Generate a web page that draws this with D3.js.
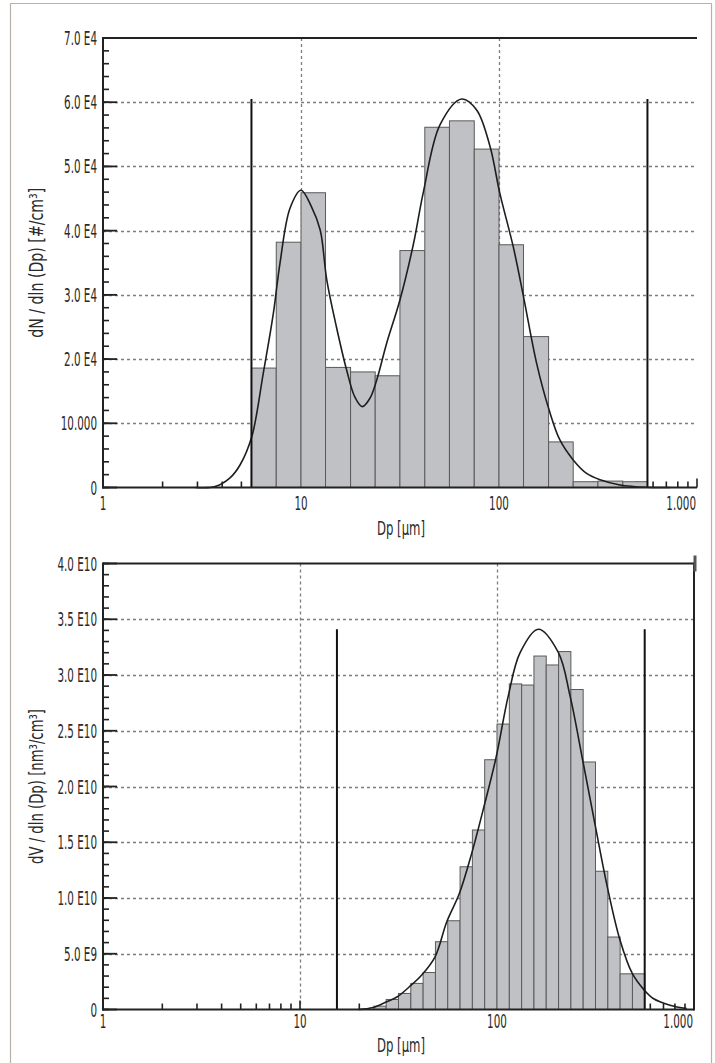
<!DOCTYPE html>
<html>
<head>
<meta charset="utf-8">
<script src="https://cdn.jsdelivr.net/npm/d3@7"></script>
<style>
  html, body { margin: 0; padding: 0; background: #ffffff; }
  svg { display: block; }
  text { font-family: "Liberation Sans Narrow", "DejaVu Sans Condensed", "Roboto", sans-serif; fill: #2a2a2a; }
</style>
</head>
<body>
<svg id="chart" width="715" height="1063"></svg>
<script>
// ---------- shared tick data ----------
const xTickValues = [1, 10, 100, 1000];
const xTickLabels = ["1", "10", "100", "1.000"];
const xTitle = "Dp [µm]";

// ---------- top panel (number distribution) ----------
const topTitle = "dN / dln (Dp) [#/cm³]";
const topYTickValues = [0, 10000, 20000, 30000, 40000, 50000, 60000, 70000];
const topYTickLabels = ["0", "10.000", "2.0 E4", "3.0 E4", "4.0 E4", "5.0 E4", "6.0 E4", "7.0 E4"];
const topBinEdges = [5.62, 7.50, 10.0, 13.3, 17.8, 23.7, 31.6, 42.2, 56.2, 75.0, 100, 133, 178, 237, 316, 422, 562];
const topBarValues = [18600, 38200, 45900, 18700, 18000, 17400, 36900, 56100, 57100, 52700, 37800, 23500, 7100, 900, 1000, 900];
const topCurveDp = [2.92, 3.68, 4.38, 4.92, 5.64, 6.45, 7.25, 7.83, 8.80, 10.0, 11.3, 12.5, 13.5, 15.1, 17.0, 18.7, 20.4, 22.3, 24.1, 27.1, 31.6, 36.9, 41.5, 50.4, 64.8, 77.1, 90.1, 101, 118, 133, 155, 179, 203, 237, 277, 324, 408, 557, 731];
const topCurveValues = [0, 150, 1500, 3500, 7900, 17800, 27100, 34900, 43500, 46300, 43700, 40100, 32300, 25000, 18300, 14100, 12600, 13900, 16700, 22500, 29200, 37800, 46000, 56500, 60500, 58800, 53100, 45800, 37500, 29700, 19300, 12100, 7400, 4300, 2200, 1200, 400, 30, 0];
const topBounds = [5.62, 562];
const topBoundHeight = 60500;

// ---------- bottom panel (volume distribution) ----------
const botTitle = "dV / dln (Dp) [nm³/cm³]";
const botYTickValues = [0, 5e9, 10e9, 15e9, 20e9, 25e9, 30e9, 35e9, 40e9];
const botYTickLabels = ["0", "5.0 E9", "1.0 E10", "1.5 E10", "2.0 E10", "2.5 E10", "3.0 E10", "3.5 E10", "4.0 E10"];
const botBinEdges = [23.71, 27.38, 31.62, 36.52, 42.17, 48.70, 56.23, 64.94, 74.99, 86.60, 100, 115.5, 133.4, 154.0, 177.8, 205.4, 237.1, 273.8, 316.2, 365.2, 421.7, 487.0, 562.3];
const botBarValues = [0.3e9, 0.9e9, 1.44e9, 2.34e9, 3.32e9, 6.08e9, 7.96e9, 12.8e9, 16.1e9, 22.4e9, 25.6e9, 29.2e9, 29.1e9, 31.7e9, 30.9e9, 32.1e9, 28.7e9, 22.2e9, 12.4e9, 6.5e9, 3.2e9, 3.2e9];
const botCurveDp = [19.8, 23.5, 27.5, 31.2, 35.9, 41.5, 48.5, 55.6, 64.4, 74.4, 85.9, 98.9, 114, 131, 162, 205, 235, 272, 316, 363, 421, 486, 559, 621, 755, 918];
const botCurveValues = [0, 0.18e9, 0.69e9, 1.14e9, 2.04e9, 3.10e9, 4.73e9, 7.87e9, 10.4e9, 14.0e9, 18.2e9, 22.6e9, 28.1e9, 32.0e9, 34.1e9, 32.0e9, 28.1e9, 22.4e9, 16.4e9, 11.0e9, 6.23e9, 3.23e9, 1.74e9, 0.99e9, 0.39e9, 0.09e9];
const botBounds = [15.4, 562];
const botBoundHeight = 34.1e9;

const svg = d3.select("#chart");
const FS = 19;

// measure the digit width of the font actually used, to condense glyphs like the original narrow face
const probe = svg.append("text").attr("font-size", FS).text("0000000000");
const digitW = probe.node().getComputedTextLength() / 10;
probe.remove();
const squeeze = Math.min(1, 6.6 / digitW);

// light frame around the figure
const frame = svg.append("g").attr("stroke", "#b9b1a9").attr("stroke-width", 1.2).attr("fill", "none");
frame.append("line").attr("x1", 10.5).attr("x2", 10.5).attr("y1", 3.5).attr("y2", 1063);
frame.append("line").attr("x1", 711.5).attr("x2", 711.5).attr("y1", 3.5).attr("y2", 1063);
frame.append("line").attr("x1", 10.5).attr("x2", 711.5).attr("y1", 3.5).attr("y2", 3.5);

// place a condensed text: anchor handled manually (start-anchored with explicit textLength)
function placeText(parent, str, ax, ay, anchor, factor) {
  const t = parent.append("text").attr("x", 0).attr("y", ay).attr("font-size", FS).text(str);
  const w = t.node().getComputedTextLength();
  const L = w * factor;
  const x0 = anchor === "end" ? ax - L : anchor === "middle" ? ax - L / 2 : ax;
  t.attr("x", x0).attr("textLength", L.toFixed(2)).attr("lengthAdjust", "spacingAndGlyphs");
  return t;
}

function drawPanel(cfg) {
  const x = d3.scaleLog().domain([1, 1000]).range([cfg.x0, cfg.x1]);
  const y = d3.scaleLinear().domain([0, cfg.yMax]).range([cfg.y0, cfg.y1]);
  const g = svg.append("g");

  // horizontal dotted gridlines
  g.append("g").selectAll("line")
    .data(cfg.yTicks.filter(v => v > 0 && v < cfg.yMax))
    .join("line")
    .attr("x1", cfg.x0).attr("x2", x(1000))
    .attr("y1", d => Math.round(y(d)) + 0.5).attr("y2", d => Math.round(y(d)) + 0.5)
    .attr("stroke", "#7d7d7d").attr("stroke-width", 1.3).attr("stroke-dasharray", "3,3");

  // vertical dotted gridlines at 10 and 100
  g.append("g").selectAll("line")
    .data([10, 100])
    .join("line")
    .attr("x1", d => Math.round(x(d)) + 0.5).attr("x2", d => Math.round(x(d)) + 0.5)
    .attr("y1", cfg.y1).attr("y2", cfg.y0)
    .attr("stroke", "#7d7d7d").attr("stroke-width", 1.3).attr("stroke-dasharray", "3,3");

  // x ticks (pointing up, inside)
  const minor = [];
  [1, 10, 100].forEach(d => { for (let k = 2; k <= 9; k++) minor.push(d * k); });
  g.append("g").selectAll("line")
    .data(minor)
    .join("line")
    .attr("x1", d => x(d)).attr("x2", d => x(d))
    .attr("y1", cfg.y0).attr("y2", cfg.y0 - 6)
    .attr("stroke", "#222").attr("stroke-width", 1.6);
  g.append("g").selectAll("line")
    .data([10, 100, 1000])
    .join("line")
    .attr("x1", d => x(d)).attr("x2", d => x(d))
    .attr("y1", cfg.y0).attr("y2", cfg.y0 - 9)
    .attr("stroke", "#222").attr("stroke-width", 1.6);

  // y ticks (pointing right, inside)
  const yMinor = d3.range(0, cfg.yMax + 1, cfg.yMinorStep);
  g.append("g").selectAll("line")
    .data(yMinor)
    .join("line")
    .attr("x1", cfg.x0).attr("x2", cfg.x0 + 6)
    .attr("y1", d => y(d)).attr("y2", d => y(d))
    .attr("stroke", "#222").attr("stroke-width", 1.6);
  g.append("g").selectAll("line")
    .data(cfg.yTicks)
    .join("line")
    .attr("x1", cfg.x0).attr("x2", cfg.x0 + 14)
    .attr("y1", d => y(d)).attr("y2", d => y(d))
    .attr("stroke", "#222").attr("stroke-width", 1.8);

  // bars
  g.append("g").selectAll("rect")
    .data(cfg.bars)
    .join("rect")
    .attr("x", (d, i) => x(cfg.edges[i]))
    .attr("width", (d, i) => x(cfg.edges[i + 1]) - x(cfg.edges[i]))
    .attr("y", d => y(d))
    .attr("height", d => y(0) - y(d))
    .attr("fill", "#c0c1c4")
    .attr("stroke", "#5a5a5a")
    .attr("stroke-width", 1);

  // fitted curve
  const pts = cfg.curveDp.map((d, i) => [d, cfg.curveV[i]]);
  g.append("path")
    .datum(pts)
    .attr("d", d3.line().x(d => x(d[0])).y(d => y(d[1])).curve(d3.curveCatmullRom.alpha(0.5)))
    .attr("fill", "none")
    .attr("stroke", "#1e1e1e")
    .attr("stroke-width", 1.6);

  // bound lines
  g.append("g").selectAll("line")
    .data(cfg.bounds)
    .join("line")
    .attr("x1", d => x(d)).attr("x2", d => x(d))
    .attr("y1", y(0)).attr("y2", y(cfg.boundH))
    .attr("stroke", "#111").attr("stroke-width", 2);

  // axis lines + top border
  g.append("line").attr("x1", cfg.x0).attr("x2", cfg.x0).attr("y1", cfg.y1 - 1).attr("y2", cfg.y0 + 1)
    .attr("stroke", "#222").attr("stroke-width", 2);
  g.append("line").attr("x1", cfg.x0 - 1).attr("x2", x(1000)).attr("y1", cfg.y0).attr("y2", cfg.y0)
    .attr("stroke", "#222").attr("stroke-width", 2);
  g.append("line").attr("x1", cfg.x0).attr("x2", x(1000)).attr("y1", cfg.y1).attr("y2", cfg.y1)
    .attr("stroke", "#222").attr("stroke-width", 2);
  if (cfg.rightBorder) {
    g.append("line").attr("x1", x(1000)).attr("x2", x(1000)).attr("y1", cfg.y1 - 1).attr("y2", cfg.y0 + 1)
      .attr("stroke", "#222").attr("stroke-width", 2);
    g.append("line").attr("x1", x(1000) + 1).attr("x2", x(1000) + 1).attr("y1", cfg.y1 - 8).attr("y2", cfg.y1 + 8)
      .attr("stroke", "#555").attr("stroke-width", 3);
  }

  // y tick labels
  const yl = g.append("g");
  cfg.yTicks.forEach((v, i) => placeText(yl, cfg.yLabels[i], cfg.x0 - 6, y(v) + 7, "end", squeeze));

  // x tick labels
  const xl = g.append("g");
  xTickValues.forEach((v, i) => {
    const last = i === xTickValues.length - 1;
    placeText(xl, xTickLabels[i], last ? x(v) - 1 : x(v), cfg.xLabelY, last ? "end" : "middle", squeeze);
  });

  // x title
  g.append("text")
    .attr("x", 377).attr("y", cfg.xTitleY)
    .attr("font-size", FS)
    .attr("textLength", 48).attr("lengthAdjust", "spacingAndGlyphs")
    .text(xTitle);

  // y title
  g.append("text")
    .attr("transform", `translate(43,${(cfg.y0 + cfg.y1) / 2 + cfg.titleLen / 2}) rotate(-90)`)
    .attr("x", 0).attr("y", 0)
    .attr("font-size", FS)
    .attr("textLength", cfg.titleLen).attr("lengthAdjust", "spacingAndGlyphs")
    .text(cfg.title);
}

drawPanel({
  x0: 103, x1: 697, y0: 487.5, y1: 38, yMax: 70000, yMinorStep: 2000,
  yTicks: topYTickValues, yLabels: topYTickLabels,
  edges: topBinEdges, bars: topBarValues,
  curveDp: topCurveDp, curveV: topCurveValues,
  bounds: topBounds, boundH: topBoundHeight,
  xLabelY: 510, xTitleY: 535, title: topTitle, titleLen: 150, rightBorder: false
});

drawPanel({
  x0: 103, x1: 694, y0: 1009.5, y1: 563.5, yMax: 40e9, yMinorStep: 1e9,
  yTicks: botYTickValues, yLabels: botYTickLabels,
  edges: botBinEdges, bars: botBarValues,
  curveDp: botCurveDp, curveV: botCurveValues,
  bounds: botBounds, boundH: botBoundHeight,
  xLabelY: 1028, xTitleY: 1052, title: botTitle, titleLen: 155, rightBorder: true
});
</script>
</body>
</html>
